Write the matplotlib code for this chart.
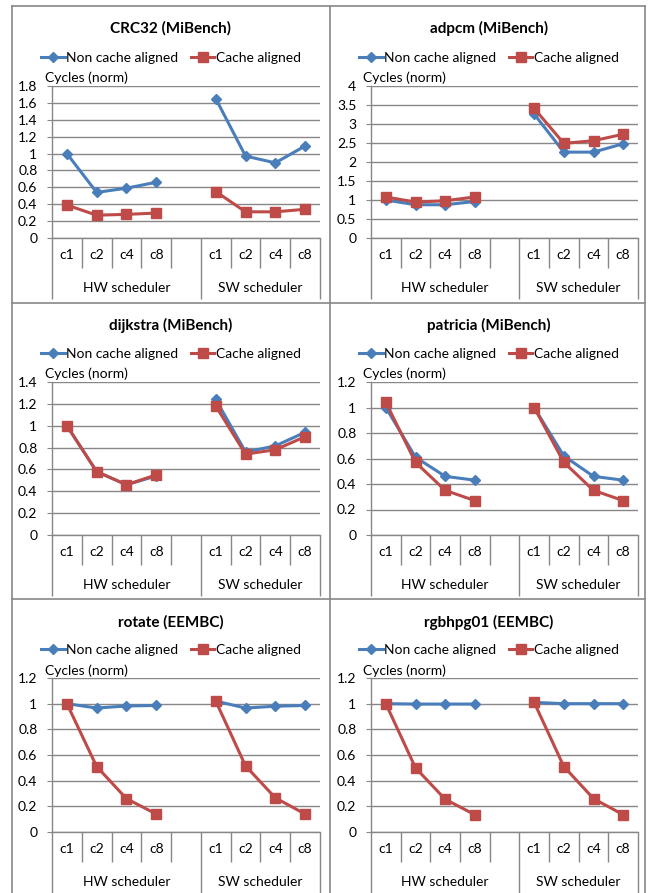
import numpy as np
import matplotlib
matplotlib.use("Agg")
import matplotlib.pyplot as plt
from matplotlib.lines import Line2D

plt.rcParams['font.family'] = ['Lato', 'DejaVu Sans']

W, H = 656, 893

configs = ["c1", "c2", "c4", "c8"]
schedulers = ["HW scheduler", "SW scheduler"]
series_names = ["Non cache aligned", "Cache aligned"]

titles = ["CRC32 (MiBench)", "adpcm (MiBench)", "dijkstra (MiBench)",
          "patricia (MiBench)", "rotate (EEMBC)", "rgbhpg01 (EEMBC)"]

# normalised cycles: first 4 = HW scheduler, last 4 = SW scheduler
crc32_non = [1.00, 0.54, 0.59, 0.66, 1.65, 0.97, 0.89, 1.09]
crc32_al = [0.39, 0.27, 0.28, 0.295, 0.55, 0.31, 0.31, 0.34]
adpcm_non = [1.00, 0.875, 0.875, 0.96, 3.26, 2.26, 2.26, 2.48]
adpcm_al = [1.08, 0.945, 0.98, 1.08, 3.41, 2.49, 2.56, 2.73]
dijkstra_non = [1.00, 0.58, 0.46, 0.54, 1.24, 0.76, 0.815, 0.94]
dijkstra_al = [1.00, 0.58, 0.46, 0.55, 1.18, 0.74, 0.78, 0.90]
patricia_non = [1.00, 0.61, 0.46, 0.43, 1.00, 0.62, 0.46, 0.43]
patricia_al = [1.04, 0.57, 0.35, 0.27, 1.00, 0.57, 0.35, 0.27]
rotate_non = [1.00, 0.966, 0.982, 0.986, 1.02, 0.966, 0.98, 0.986]
rotate_al = [1.00, 0.51, 0.26, 0.14, 1.02, 0.515, 0.266, 0.14]
rgb_non = [1.00, 0.997, 0.997, 0.997, 1.01, 1.00, 1.00, 1.00]
rgb_al = [1.00, 0.50, 0.255, 0.135, 1.01, 0.51, 0.26, 0.135]

non_aligned = [crc32_non, adpcm_non, dijkstra_non, patricia_non, rotate_non, rgb_non]
aligned = [crc32_al, adpcm_al, dijkstra_al, patricia_al, rotate_al, rgb_al]
y_max = [1.8, 4, 1.4, 1.2, 1.2, 1.2]
y_step = [0.2, 0.5, 0.2, 0.2, 0.2, 0.2]

BLUE = "#4a7ebb"
RED = "#be4b48"
GRID = "#878787"

# pixel layout of the 3x2 grid
col_axes = [(52, 320), (371, 638)]
col_center = [171, 489]
row_axes = [(86, 238), (382, 535), (678, 832)]
row_title = [28, 325, 622]
row_legend = [58, 354, 650]
row_ylabel = [78, 374, 671]
col_ylabel = [45, 363]

fig = plt.figure(figsize=(W / 100, H / 100), dpi=100)


def fx(px):
    return px / W


def fy(py):
    return 1 - py / H


# panel borders
for x in [12, 330, 645]:
    fig.add_artist(Line2D([fx(x), fx(x)], [fy(6), fy(H + 2)], color=GRID, lw=1.2))
for y in [6, 303, 599]:
    fig.add_artist(Line2D([fx(12), fx(645)], [fy(y), fy(y)], color=GRID, lw=1.2))

x_hw = np.arange(4) + 0.5
x_sw = np.arange(4) + 5.5

for i in range(6):
    r, c = divmod(i, 2)
    x0, x1 = col_axes[c]
    y0, y1 = row_axes[r]
    ax = fig.add_axes([fx(x0), fy(y1), fx(x1 - x0), (y1 - y0) / H])
    h_px = y1 - y0

    for vals, color, marker, ms in [(non_aligned[i], BLUE, "D", 5.5),
                                    (aligned[i], RED, "s", 6.5)]:
        ax.plot(x_hw, vals[:4], color=color, lw=2.2, marker=marker, ms=ms, zorder=3)
        ax.plot(x_sw, vals[4:], color=color, lw=2.2, marker=marker, ms=ms, zorder=3)

    ax.set_xlim(0, 9)
    ax.set_ylim(0, y_max[i])
    ticks = np.arange(0, y_max[i] + 1e-9, y_step[i])
    ax.set_yticks(ticks, [f"{t:g}" for t in ticks])
    ax.yaxis.grid(True, color=GRID, lw=1.0)
    ax.set_axisbelow(True)
    ax.tick_params(axis="y", length=3.5, color=GRID, pad=7, labelsize=10)
    ax.set_xticks(list(x_hw) + list(x_sw), configs + configs)
    ax.tick_params(axis="x", length=0, pad=8, labelsize=10)
    for s in ["top", "right"]:
        ax.spines[s].set_visible(False)
    for s in ["left", "bottom"]:
        ax.spines[s].set_color(GRID)
        ax.spines[s].set_linewidth(1.0)

    # category dividers under the axis
    tr = ax.get_xaxis_transform()
    ax.vlines([1, 2, 3, 4, 6, 7, 8], -30 / h_px, 0, transform=tr,
              color=GRID, lw=1.0, clip_on=False)
    ax.vlines([0, 5, 9], -61 / h_px, 0, transform=tr,
              color=GRID, lw=1.0, clip_on=False)
    ax.text(2.5, -50 / h_px, schedulers[0], transform=tr, ha="center", va="center", fontsize=10)
    ax.text(7.0, -50 / h_px, schedulers[1], transform=tr, ha="center", va="center", fontsize=10)

    fig.text(fx(col_center[c]), fy(row_title[r]), titles[i], ha="center", va="center",
             fontsize=11, fontweight="bold")
    fig.text(fx(col_ylabel[c]), fy(row_ylabel[r]), "Cycles (norm)", ha="left", va="center",
             fontsize=10)

    handles = [Line2D([], [], color=BLUE, lw=2.2, marker="D", ms=5.5),
               Line2D([], [], color=RED, lw=2.2, marker="s", ms=6.5)]
    fig.legend(handles, series_names, loc="center", ncol=2, frameon=False,
               bbox_to_anchor=(fx(col_center[c]), fy(row_legend[r])),
               fontsize=10, handlelength=1.7, handletextpad=0.1, columnspacing=0.9,
               borderpad=0, borderaxespad=0)

fig.savefig("out.png", dpi=100, facecolor="white")
